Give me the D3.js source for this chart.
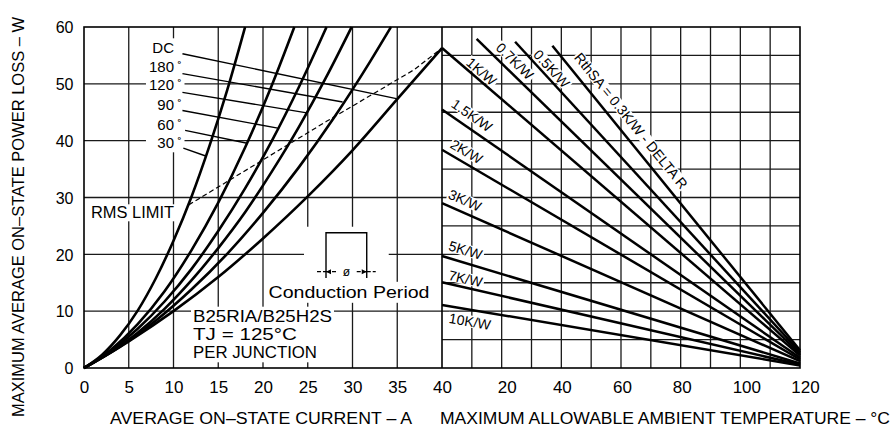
<!DOCTYPE html>
<html><head><meta charset="utf-8">
<script src="https://cdn.jsdelivr.net/npm/d3@7"></script>
<style>
body{margin:0;background:#fff}
svg{display:block}
text{font-family:"Liberation Sans",Arial,sans-serif;fill:#000}
</style>
</head><body>
<svg id="c" width="895" height="434"></svg>
<script>
// ---------------- DATA ----------------
const currentTicks = [0, 5, 10, 15, 20, 25, 30, 35, 40];
const powerTicks = [0, 10, 20, 30, 40, 50, 60];
const tempTicks = [20, 40, 60, 80, 100, 120];
const angleLabels = ["DC", "180", "120", "90", "60", "30"];
// [current A, power W]
const curveDC  = [[0,0],[5,4.7],[10,10],[15,16],[20,22.8],[25,30.2],[30,38.3],[35,47.3],[40,56.3]];
const curve180 = [[0,0],[4,3.7],[8,8.3],[12,13.8],[16,20.1],[20,27.3],[24,35.3],[28,44.2],[32,54],[34.3,60]];
const curve120 = [[0,0],[3,2.8],[6,6.2],[9,10.4],[12,15.4],[15,21.1],[18,27.4],[21,34.6],[24,42.4],[27,51],[29.9,60]];
const curve90  = [[0,0],[3,3],[6,6.9],[9,11.7],[12,17.4],[15,24.1],[18,31.6],[21,40],[24,49.4],[27.1,60]];
const curve60  = [[0,0],[3,3.2],[6,7.7],[9,13.5],[12,20.7],[15,29.1],[18,38.8],[21,49.8],[23.5,60]];
const curve30  = [[0,0],[2,2.3],[4,5.7],[6,10.1],[8,15.7],[10,22.4],[12,30.1],[14,39],[16,48.9],[18,60]];
const leaderStart = [[11,55.3],[11,51.8],[11,48.5],[11,45.3],[11.3,41.8],[11.1,38.7]];
const leaderEnd   = [[34.9,47.4],[28.9,46.8],[24.9,44.9],[21.65,42.2],[18.1,39.6],[13.6,37.3]];
const rmsLimit = [[11.7,28.7],[27.1,43.4],[36.9,52.5],[40,56.3]];
// heatsink lines [temperature C, power W]
const sinkLabels = ["RthSA = 0.3K/W - DELTA R","0.5K/W","0.7K/W","1K/W","1.5K/W","2K/W","3K/W","5K/W","7K/W","10K/W"];
const sinkStart = [[37,56.7],[24.5,57.4],[11.6,57.9],[0,56.3],[0,45.5],[0,38.4],[0,29],[0,19.7],[0,15.1],[0,11.1]];
const sinkEnd   = [[120,3.1],[120,2.8],[120,2.5],[120,2.2],[120,1.8],[120,1.5],[120,1.2],[120,0.8],[120,0.6],[120,0.45]];

// ---------------- LAYOUT ----------------
const svg = d3.select("#c");
const xI = d3.scaleLinear().domain([0,40]).range([84,442]);
const xT = d3.scaleLinear().domain([0,120]).range([442,800]);
const y  = d3.scaleLinear().domain([0,60]).range([368,27]);
const sinkLabelT   = [59.8, 34.6, 21.9, 11.5, 7.7, 6.4, 6.1, 6.7, 7.2, 10.0];
const sinkLabelOff = [13.8, 8.8, 10.8, 8, 12.3, 11, 12, 12.5, 8.8, -11.6];
const tempDx = [5, 0.5, 1, 1, 6, 5];

const gridL = svg.append("g");
const maskL = svg.append("g");
const markL = svg.append("g");
const textL = svg.append("g");

const gc = "#1a1a1a", gw = 1.3;
// left grid
currentTicks.filter(d => d > 0 && d < 40).forEach(d =>
  gridL.append("line").attr("x1", xI(d)).attr("x2", xI(d)).attr("y1", y(0)).attr("y2", y(60))
    .attr("stroke", gc).attr("stroke-width", gw));
powerTicks.filter(d => d > 0 && d < 60).forEach(d =>
  gridL.append("line").attr("x1", xI(0)).attr("x2", xI(40)).attr("y1", y(d)).attr("y2", y(d))
    .attr("stroke", gc).attr("stroke-width", gw));
// right grid
d3.range(10, 120, 10).forEach(d =>
  gridL.append("line").attr("x1", xT(d)).attr("x2", xT(d)).attr("y1", y(0)).attr("y2", y(60))
    .attr("stroke", gc).attr("stroke-width", gw));
d3.range(5, 60, 5).forEach(d =>
  gridL.append("line").attr("x1", xT(0)).attr("x2", xT(120)).attr("y1", y(d)).attr("y2", y(d))
    .attr("stroke", gc).attr("stroke-width", gw));
// frame
gridL.append("rect").attr("x", xI(0)).attr("y", y(60)).attr("width", xT(120) - xI(0)).attr("height", y(0) - y(60))
  .attr("fill", "none").attr("stroke", "#000").attr("stroke-width", 1.6);
gridL.append("line").attr("x1", xI(40)).attr("x2", xI(40)).attr("y1", y(0)).attr("y2", y(60))
  .attr("stroke", "#000").attr("stroke-width", 1.6);

function mask(sel, pad) {
  const b = sel.node().getBBox();
  maskL.append("rect").attr("x", b.x - pad).attr("y", b.y - pad + 2)
    .attr("width", b.width + 2 * pad).attr("height", b.height + 2 * pad - 4).attr("fill", "#fff");
}

// ---------------- AXES ----------------
const axB = svg.append("g").attr("transform", `translate(0,${y(0)})`)
  .call(d3.axisBottom(xI).tickValues(currentTicks).tickSize(0));
axB.select(".domain").remove();
axB.selectAll("text").attr("y", 25).attr("dy", null).attr("font-size", 17)
  .attr("font-family", '"Liberation Sans",Arial,sans-serif').attr("fill", "#000");

const axT = svg.append("g").attr("transform", `translate(0,${y(0)})`)
  .call(d3.axisBottom(xT).tickValues(tempTicks).tickSize(0));
axT.select(".domain").remove();
axT.selectAll("text").attr("y", 25).attr("dy", null).attr("x", (d, i) => tempDx[i]).attr("font-size", 17)
  .attr("font-family", '"Liberation Sans",Arial,sans-serif').attr("fill", "#000");

const axL = svg.append("g").attr("transform", `translate(73.5,0)`)
  .call(d3.axisLeft(y).tickValues(powerTicks).tickSize(0));
axL.select(".domain").remove();
axL.selectAll("text").attr("x", 0).attr("dy", "0.36em").attr("font-size", 16)
  .attr("font-family", '"Liberation Sans",Arial,sans-serif').attr("fill", "#000");

// axis titles
textL.append("text").attr("x", 110).attr("y", 424).attr("font-size", 16)
  .attr("textLength", 302).attr("lengthAdjust", "spacingAndGlyphs")
  .text("AVERAGE ON–STATE CURRENT  –  A");
textL.append("text").attr("x", 440).attr("y", 424).attr("font-size", 16)
  .attr("textLength", 450).attr("lengthAdjust", "spacingAndGlyphs")
  .text("MAXIMUM ALLOWABLE AMBIENT TEMPERATURE  –  °C");
textL.append("text").attr("transform", "translate(24,417) rotate(-90)").attr("font-size", 16)
  .attr("textLength", 400).attr("lengthAdjust", "spacingAndGlyphs")
  .text("MAXIMUM AVERAGE ON–STATE POWER LOSS  –  W");

// ---------------- LEFT ANNOTATIONS ----------------
const labBase = [53.3, 71.7, 90, 110, 130, 148.3];
const labG = textL.append("g");
angleLabels.forEach((t, i) => {
  labG.append("text").attr("x", 174).attr("y", labBase[i]).attr("text-anchor", "end")
    .attr("font-size", 15).text(t);
  if (t !== "DC") labG.append("text").attr("x", 177.5).attr("y", labBase[i] - 5)
    .attr("font-size", 9).attr("font-weight", "bold").text("°");
});
mask(labG, 3);

const rms = textL.append("text").attr("x", 91).attr("y", 218.3).attr("font-size", 16)
  .attr("textLength", 83).attr("lengthAdjust", "spacingAndGlyphs").text("RMS LIMIT");
mask(rms, 2);

const blk = textL.append("g");
blk.append("text").attr("x", 193).attr("y", 321.7).attr("font-size", 17)
  .attr("textLength", 139).attr("lengthAdjust", "spacingAndGlyphs").text("B25RIA/B25H2S");
blk.append("text").attr("x", 193).attr("y", 340).attr("font-size", 17)
  .attr("textLength", 104).attr("lengthAdjust", "spacingAndGlyphs").text("TJ  =  125°C");
blk.append("text").attr("x", 193).attr("y", 358.3).attr("font-size", 17)
  .attr("textLength", 124).attr("lengthAdjust", "spacingAndGlyphs").text("PER JUNCTION");
mask(blk, 2);

const cp = textL.append("text").attr("x", 268.5).attr("y", 297.8).attr("font-size", 17)
  .attr("textLength", 161).attr("lengthAdjust", "spacingAndGlyphs").text("Conduction Period");
mask(cp, 3);

// conduction period symbol (in data coordinates)
const symL = xI(27.04), symR = xI(31.59), symT = y(23.8), symB = y(15.84), symD = y(16.95);
maskL.append("rect").attr("x", symL - 22).attr("y", symT - 6).attr("width", symR - symL + 44)
  .attr("height", symB - symT + 12).attr("fill", "#fff");
markL.append("path").attr("d", `M${symL},${symB}V${symT}H${symR}V${symB}`)
  .attr("fill", "none").attr("stroke", "#000").attr("stroke-width", 1.4);
markL.append("path").attr("d", `M${symL - 9},${symD}H${symL}M${symL},${symD}H${symL + 10}M${symR - 10},${symD}H${symR}M${symR},${symD}H${symR + 9}`)
  .attr("fill", "none").attr("stroke", "#000").attr("stroke-width", 1.1).attr("stroke-dasharray", "4,2");
markL.append("path").attr("d", `M${symL},${symD}l5,-2.5v5z M${symR},${symD}l-5,-2.5v5z`).attr("fill", "#000");
textL.append("text").attr("x", (symL + symR) / 2).attr("y", symD + 4.5).attr("text-anchor", "middle")
  .attr("font-size", 12).text("ø");

// ---------------- RIGHT LABELS ----------------
sinkLabels.forEach((lab, i) => {
  const [t0, p0] = sinkStart[i], [t1, p1] = sinkEnd[i];
  const x0 = xT(t0), y0 = y(p0), x1 = xT(t1), y1 = y(p1);
  const th = Math.atan2(y1 - y0, x1 - x0);
  const t = sinkLabelT[i];
  const p = p0 + (t - t0) / (t1 - t0) * (p1 - p0);
  const off = sinkLabelOff[i];
  const cx = xT(t) + off * Math.sin(th), cy = y(p) - off * Math.cos(th);
  const tr = `translate(${cx},${cy}) rotate(${th * 180 / Math.PI})`;
  const g = textL.append("g").attr("transform", tr);
  const tx = g.append("text").attr("text-anchor", "middle").attr("dy", "0.36em").attr("font-size", 14).text(lab);
  const b = tx.node().getBBox();
  maskL.append("rect").attr("transform", tr).attr("x", b.x - 1).attr("y", b.y + 2)
    .attr("width", b.width + 2).attr("height", b.height - 4).attr("fill", "#fff");
});

// ---------------- MARKS ----------------
const lineI = d3.line().x(d => xI(d[0])).y(d => y(d[1])).curve(d3.curveMonotoneX);
const lineT = d3.line().x(d => xT(d[0])).y(d => y(d[1]));
[curveDC, curve180, curve120, curve90, curve60, curve30].forEach(c =>
  markL.append("path").attr("d", lineI(c)).attr("fill", "none").attr("stroke", "#000")
    .attr("stroke-width", 2.6).attr("stroke-linejoin", "round"));
leaderStart.forEach((s, i) =>
  markL.append("line").attr("x1", xI(s[0])).attr("y1", y(s[1]))
    .attr("x2", xI(leaderEnd[i][0])).attr("y2", y(leaderEnd[i][1]))
    .attr("stroke", "#000").attr("stroke-width", 1.4));
markL.append("path").attr("d", d3.line().x(d => xI(d[0])).y(d => y(d[1]))(rmsLimit))
  .attr("fill", "none").attr("stroke", "#000").attr("stroke-width", 1.2).attr("stroke-dasharray", "5,3");
sinkStart.forEach((s, i) =>
  markL.append("path").attr("d", lineT([s, sinkEnd[i]])).attr("fill", "none").attr("stroke", "#000")
    .attr("stroke-width", 2.5));
</script>
</body></html>
